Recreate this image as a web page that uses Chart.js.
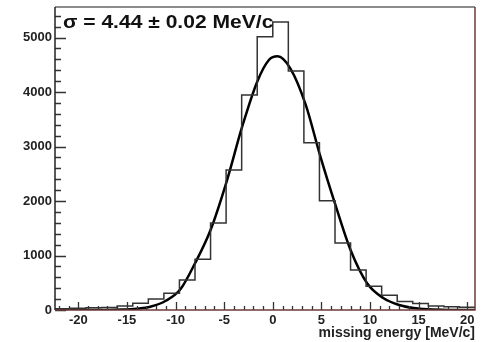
<!DOCTYPE html>
<html>
<head>
<meta charset="utf-8">
<script src="https://cdn.jsdelivr.net/npm/chart.js@4.4.0/dist/chart.umd.min.js"></script>
<style>
  html, body { margin: 0; padding: 0; background: #fff; }
  #wrap { width: 481px; height: 342px; }
</style>
</head>
<body>
<div id="wrap"><canvas id="c" width="481" height="342"></canvas></div>
<script>
// histogram bins (left edges + final right edge) and counts
const binEdges = [-22.4, -20.8, -19.2, -17.6, -16.0, -14.4, -12.8, -11.2, -9.6, -8.0, -6.4, -4.8, -3.2, -1.6,
                  0.0, 1.6, 3.2, 4.8, 6.4, 8.0, 9.6, 11.2, 12.8, 14.4, 16.0, 17.6, 19.2, 20.8];
const binCounts = [25, 30, 40, 45, 73, 123, 200, 306, 550, 930, 1595, 2570, 3945, 5015,
                   5284, 4385, 3070, 2005, 1230, 734, 435, 270, 155, 120, 73, 60, 50];

// gaussian fit curve
const fitX = [-22.4, -17, -15.5, -14, -12.6, -11, -9.5, -8.0, -6.4, -4.7, -3.15, -1.6, -0.4, 0.5,
              1.8, 3.4, 4.9, 6.5, 8.0, 9.7, 11.4, 13.0, 14.5, 16, 18, 20.8];
const fitY = [0, 2, 8, 25, 60, 170, 380, 857, 1468, 2385, 3363, 4190, 4587, 4655,
              4435, 3761, 2813, 1895, 1100, 490, 215, 92, 35, 12, 2, 0];

const xTicks = [-20, -15, -10, -5, 0, 5, 10, 15, 20];
const yTicks = [0, 1000, 2000, 3000, 4000, 5000];
const fitLabel = 'σ = 4.44 ± 0.02 MeV/c';
const xTitle = 'missing energy [MeV/c]';

const FONT = '"Liberation Sans", Arial, sans-serif';

const histPoints = binCounts.map((c, i) => ({ x: binEdges[i], y: c }));
histPoints.push({ x: binEdges[binEdges.length - 1], y: binCounts[binCounts.length - 1] });
const fitPoints = fitX.map((x, i) => ({ x, y: fitY[i] }));

// ROOT-like frame with inward ticks and the fit label
const rootFrame = {
  id: 'rootFrame',
  afterDatasetsDraw(chart) {
    const { ctx, chartArea: a, scales: { x, y } } = chart;
    ctx.save();
    ctx.strokeStyle = '#333';
    ctx.lineWidth = 1.3;
    ctx.beginPath();
    for (let v = 0; v <= y.max; v += 200) {
      const py = Math.round(y.getPixelForValue(v)) + 0.5;
      const len = v % 1000 === 0 ? 11 : 6;
      ctx.moveTo(a.left, py);
      ctx.lineTo(a.left + len, py);
    }
    for (let v = -22; v <= 20; v++) {
      const px = Math.round(x.getPixelForValue(v)) + 0.5;
      const len = v % 5 === 0 ? 8 : 4;
      ctx.moveTo(px, a.bottom);
      ctx.lineTo(px, a.bottom - len);
    }
    ctx.stroke();

    // frame
    ctx.lineWidth = 1.5;
    ctx.strokeStyle = '#666';
    ctx.beginPath();
    ctx.moveTo(a.left, a.top); ctx.lineTo(a.right, a.top);
    ctx.stroke();
    ctx.strokeStyle = '#222';
    ctx.beginPath();
    ctx.moveTo(a.left, a.top); ctx.lineTo(a.left, a.bottom);
    ctx.stroke();
    ctx.strokeStyle = '#6e3a3a';
    ctx.beginPath();
    ctx.moveTo(a.left, a.bottom); ctx.lineTo(a.right, a.bottom); ctx.lineTo(a.right, a.top);
    ctx.stroke();

    // fit label
    ctx.fillStyle = '#111';
    ctx.font = 'bold 18px ' + FONT;
    ctx.textBaseline = 'alphabetic';
    ctx.translate(a.left + 8, 28);
    ctx.scale(1.17, 1);
    ctx.fillText(fitLabel, 0, 0);
    ctx.restore();
  }
};

new Chart(document.getElementById('c'), {
  type: 'line',
  data: {
    datasets: [
      {
        label: 'data',
        data: histPoints,
        stepped: 'before',
        borderColor: '#333',
        borderWidth: 1.5,
        pointRadius: 0,
        fill: false
      },
      {
        label: 'fit',
        data: fitPoints,
        cubicInterpolationMode: 'monotone',
        borderColor: '#000',
        borderWidth: 2.5,
        pointRadius: 0,
        fill: false
      }
    ]
  },
  options: {
    responsive: false,
    animation: false,
    devicePixelRatio: 1,
    layout: { padding: { top: 7, right: 6, left: 0, bottom: 0 } },
    plugins: { legend: { display: false }, tooltip: { enabled: false } },
    scales: {
      x: {
        type: 'linear',
        min: -22.4,
        max: 20.8,
        afterBuildTicks: s => { s.ticks = xTicks.map(v => ({ value: v })); },
        afterFit: s => { s.height = 32; s.paddingLeft = 0; s.paddingRight = 0; },
        grid: { display: false, drawTicks: false },
        border: { display: false },
        ticks: {
          color: '#222',
          padding: 3,
          maxRotation: 0,
          font: { family: FONT, size: 13, weight: 'bold' },
          callback: v => String(v)
        },
        title: {
          display: true,
          text: xTitle,
          align: 'end',
          color: '#222',
          padding: { top: 0, bottom: 0 },
          font: { family: FONT, size: 14, weight: 'bold' }
        }
      },
      y: {
        min: 0,
        max: 5560,
        afterBuildTicks: s => { s.ticks = yTicks.map(v => ({ value: v })); },
        afterFit: s => { s.width = 55; s.paddingTop = 0; s.paddingBottom = 0; },
        grid: { display: false, drawTicks: false },
        border: { display: false },
        ticks: {
          color: '#222',
          padding: 3,
          font: { family: FONT, size: 13, weight: 'bold' },
          callback: v => String(v)
        }
      }
    }
  },
  plugins: [rootFrame]
});
</script>
</body>
</html>
